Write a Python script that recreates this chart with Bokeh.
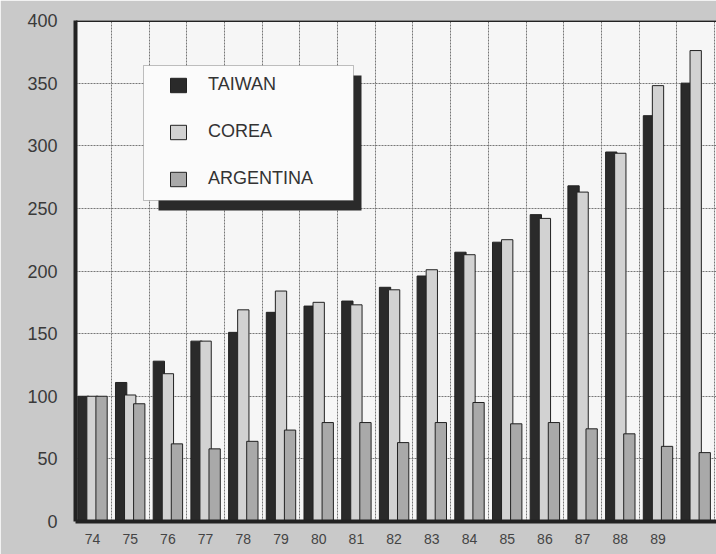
from bokeh.plotting import figure
from bokeh.models import (ColumnDataSource, FixedTicker, Legend, LegendItem,
                          BoxAnnotation, Span, Range1d)
from bokeh.transform import dodge
from bokeh.embed import file_html
from bokeh.resources import INLINE

# ---- data (index, 1974 = 100) ----
years = [74, 75, 76, 77, 78, 79, 80, 81, 82, 83, 84, 85, 86, 87, 88, 89, 90]
year_labels = ["74", "75", "76", "77", "78", "79", "80", "81", "82", "83",
               "84", "85", "86", "87", "88", "89"]
taiwan = [100, 111, 128, 144, 151, 167, 172, 176, 187, 196, 215, 223, 245, 268, 295, 324, 350]
corea = [100, 101, 118, 144, 169, 184, 175, 173, 185, 201, 213, 225, 242, 263, 294, 348, 376]
argentina = [100, 94, 62, 58, 64, 73, 79, 79, 63, 79, 95, 78, 79, 74, 70, 60, 55]
series_names = ["TAIWAN", "COREA", "ARGENTINA"]
y_ticks = [0, 50, 100, 150, 200, 250, 300, 350, 400]

# ---- layout constants ----
W, H = 716, 554
FL, FT, FB = 75, 20, 521          # frame left / top / bottom in px
STEP = 37.7                       # px per year
X0 = 74 - 17 / STEP
X1 = X0 + (W - FL) / STEP
PX_PER_UNIT = (FB - FT) / 400.0

def dx(px):
    return X0 + (px - FL) / STEP

def dy(py):
    return (FB - py) / PX_PER_UNIT

src = ColumnDataSource(dict(x=years, taiwan=taiwan, corea=corea, argentina=argentina))

p = figure(width=W, height=H, output_backend="svg", toolbar_location=None,
           x_range=Range1d(X0, X1), y_range=Range1d(0, 400),
           min_border_left=FL, min_border_right=0, min_border_top=FT,
           min_border_bottom=H - FB)

p.background_fill_color = "#f6f6f6"
p.border_fill_color = "#c9c9c9"
p.outline_line_color = None

# grid
p.xgrid.ticker = FixedTicker(ticks=[y + 0.5 for y in years])
p.ygrid.ticker = FixedTicker(ticks=y_ticks)
for g in (p.xgrid, p.ygrid):
    g.grid_line_color = "#777777"
    g.grid_line_dash = "2 1"
    g.grid_line_width = 1

# bars
BW = 0.3
OFF = 0.24
colors = ["#2a2a2a", "#d2d2d2", "#a9a9a9"]
fields = ["taiwan", "corea", "argentina"]
renderers = []
for i, f in enumerate(fields):
    r = p.vbar(x=dodge("x", (i - 1) * OFF, range=p.x_range), top=f, width=BW,
               source=src, fill_color=colors[i], line_color="#222222", line_width=1)
    renderers.append(r)

# axes
p.yaxis.ticker = FixedTicker(ticks=y_ticks)
p.yaxis.axis_line_width = 4
p.yaxis.axis_line_color = "#222222"
p.yaxis.major_tick_line_color = None
p.yaxis.minor_tick_line_color = None
p.yaxis.major_label_standoff = 12
p.yaxis.major_label_text_font = "Liberation Sans"
p.yaxis.major_label_text_font_size = "18px"
p.yaxis.major_label_text_color = "#3a3a3a"

p.xaxis.ticker = FixedTicker(ticks=years[:len(year_labels)])
p.xaxis.major_label_overrides = {y: lab for y, lab in zip(years, year_labels)}
p.xaxis.axis_line_width = 4
p.xaxis.axis_line_color = "#222222"
p.xaxis.major_tick_line_color = None
p.xaxis.minor_tick_line_color = None
p.xaxis.major_label_standoff = 6
p.xaxis.major_label_text_font = "Liberation Sans"
p.xaxis.major_label_text_font_size = "14px"
p.xaxis.major_label_text_color = "#444444"

p.add_layout(Span(location=400, dimension="width", line_color="#222222", line_width=3))

# legend box + shadow
shadow = BoxAnnotation(left=dx(158), right=dx(361), top=dy(75), bottom=dy(210),
                       fill_color="#2a2a2a", fill_alpha=1, line_color=None,
                       level="annotation")
box = BoxAnnotation(left=dx(143), right=dx(353), top=dy(65), bottom=dy(200),
                    fill_color="#fbfbfb", fill_alpha=1, line_color="#333333",
                    line_width=1, level="annotation")
p.add_layout(shadow)
p.add_layout(box)

legend = Legend(items=[LegendItem(label=n, renderers=[r]) for n, r in zip(series_names, renderers)],
                location=(168 - FL, FB - 189), margin=0, padding=10,
                glyph_width=20, glyph_height=18, label_height=20, spacing=26,
                label_standoff=20, label_text_font="Liberation Sans",
                label_text_font_size="18px", label_text_color="#333333",
                background_fill_alpha=0, border_line_color=None, level="overlay")
p.add_layout(legend)

open("out.html", "w").write(file_html(p, INLINE))
